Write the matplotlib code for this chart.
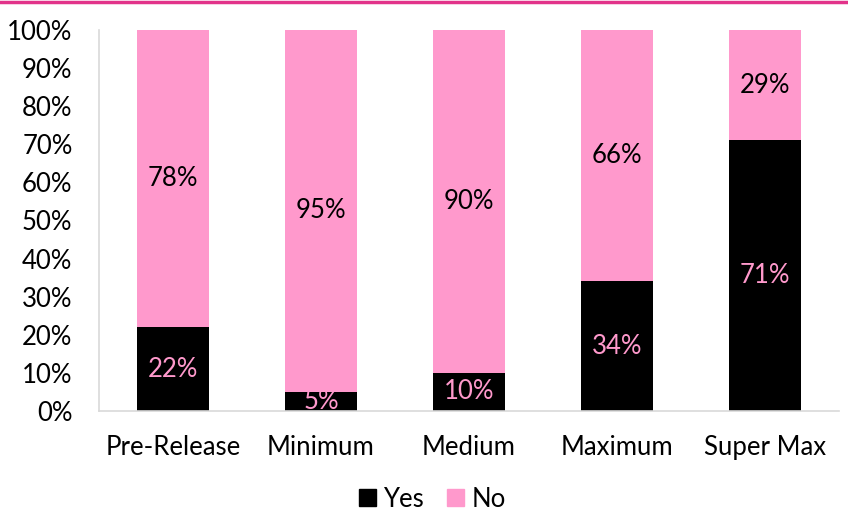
import matplotlib.pyplot as plt
import matplotlib.patches as mpatches
from matplotlib.ticker import FuncFormatter

plt.rcParams['font.family'] = ['Lato', 'DejaVu Sans']

categories = ['Pre-Release', 'Minimum', 'Medium', 'Maximum', 'Super Max']
yes_pct = [22, 5, 10, 34, 71]
no_pct = [78, 95, 90, 66, 29]

pink = '#ff99cc'
fs = 18.5

fig = plt.figure(figsize=(8.48, 5.12), dpi=100)
ax = fig.add_axes([0.1167, 0.1973, 0.8727, 0.7441])

x = range(len(categories))
b1 = ax.bar(x, yes_pct, width=0.49, color='black', label='Yes')
b2 = ax.bar(x, no_pct, bottom=yes_pct, width=0.49, color=pink, label='No')

ax.bar_label(b1, labels=[f'{v}%' for v in yes_pct], label_type='center', color=pink, fontsize=fs)
ax.bar_label(b2, labels=[f'{v}%' for v in no_pct], label_type='center', color='black', fontsize=fs)

ax.set_xlim(-0.5, len(categories) - 0.5)
ax.set_ylim(0, 100)
ax.set_yticks(range(0, 101, 10))
ax.yaxis.set_major_formatter(FuncFormatter(lambda v, p: f'{int(v)}%'))
ax.set_xticks(list(x))
ax.set_xticklabels(categories)
ax.tick_params(axis='both', length=0, labelsize=fs)
ax.tick_params(axis='x', pad=17)
ax.tick_params(axis='y', pad=19)

for s in ['top', 'right']:
    ax.spines[s].set_visible(False)
ax.spines['left'].set_color('#d9d9d9')
ax.spines['bottom'].set_color('#d9d9d9')
ax.spines['left'].set_linewidth(1.2)
ax.spines['bottom'].set_linewidth(1.2)

handles = [mpatches.Patch(color='black', label='Yes'), mpatches.Patch(color=pink, label='No')]
fig.legend(handles=handles, loc='center', bbox_to_anchor=(0.51, 0.025), ncol=2, frameon=False,
           fontsize=fs, handlelength=0.65, handleheight=0.65, handletextpad=0.3, columnspacing=0.9)

fig.add_artist(plt.Line2D([0, 1], [0.996, 0.996], color='#e2338a', linewidth=2.5, transform=fig.transFigure))

fig.savefig('out.png', dpi=100)
